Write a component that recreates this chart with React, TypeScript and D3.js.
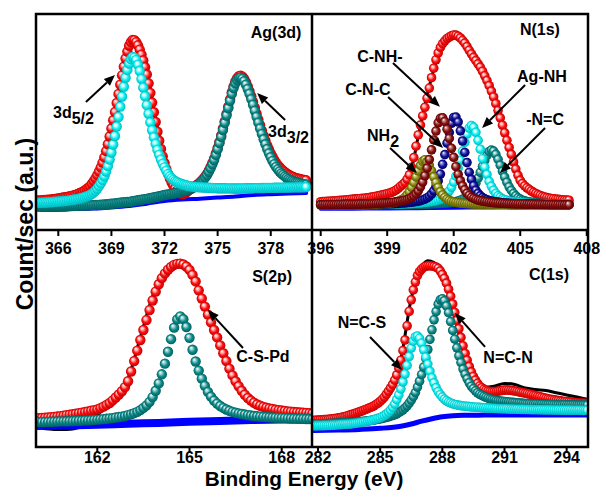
import React from 'react';
import * as d3 from 'd3';

// ---------------- DATA (intensity in a.u., 0-100 per panel) ----------------
// Ag(3d): binding energy grid 364.8 .. 380.0 eV, 0.1 eV step
const agStart = 364.8, agStep = 0.1, agCount = 153;
const agEnvelope = [
  13.6,13.65,13.7,13.8,13.9,13.95,14.0,14.07,14.15,14.25,
  14.35,14.47,14.6,14.75,14.9,15.05,15.2,15.35,15.5,15.7,
  15.9,16.15,16.4,16.7,17.1,17.4,17.8,18.35,19.0,19.6,
  20.3,21.4,22.6,23.9,25.4,27.1,29.0,31.2,33.6,36.5,
  39.7,43.3,47.0,50.8,54.6,58.8,63.0,67.3,71.6,75.6,
  79.4,82.6,85.3,87.0,88.0,87.9,87.0,85.5,83.5,81.2,
  78.5,75.4,72.0,67.9,63.5,59.0,54.5,50.0,45.5,41.3,
  37.5,34.1,31.0,28.3,26.0,23.9,22.0,20.5,19.2,18.2,
  17.4,16.9,16.6,16.8,17.3,17.95,18.6,19.1,19.6,20.1,
  20.7,21.3,22.0,22.85,23.8,24.85,26.0,27.5,29.2,31.0,
  33.0,35.4,38.0,40.8,43.8,47.0,50.3,53.7,57.1,60.5,
  63.8,66.5,68.8,70.3,71.2,71.4,71.0,69.9,68.4,66.5,
  64.3,61.9,59.3,56.6,53.8,51.1,48.5,46.0,43.6,41.3,
  39.2,37.3,35.5,33.9,32.4,31.1,30.0,29.05,28.2,27.45,
  26.8,26.2,25.6,25.2,24.8,24.45,24.1,23.9,23.7,23.5,
  23.3,23.15,23.0];
const ag3d52 = [
  12.6,12.62,12.65,12.67,12.7,12.75,12.8,12.85,12.9,12.97,
  13.05,13.12,13.2,13.25,13.3,13.4,13.5,13.6,13.7,13.85,
  14.0,14.12,14.25,14.42,14.6,14.8,15.0,15.3,15.6,15.9,
  16.3,16.8,17.45,18.25,19.2,20.4,21.7,23.2,24.9,27.1,
  29.6,32.6,35.9,39.6,43.5,47.9,52.3,57.1,61.8,66.3,
  70.5,74.1,77.1,79.1,80.1,79.8,78.7,76.5,73.6,69.9,
  65.9,61.9,57.8,53.8,49.8,46.2,42.9,39.9,37.1,34.8,
  32.6,30.7,29.0,27.4,25.9,24.8,23.9,23.2,22.6,22.2,
  21.8,21.5,21.2,20.95,20.7,20.5,20.3,20.2,20.1,20.0,
  19.9,19.85,19.8,19.75,19.7,19.65,19.6,19.55,19.5,19.45,
  19.4,19.37,19.35,19.32,19.3,19.3,19.3,19.27,19.25,19.25,
  19.25,19.22,19.2,19.2,19.2,19.22,19.25,19.27,19.3,19.3,
  19.3,19.32,19.35,19.37,19.4,19.4,19.4,19.42,19.45,19.47,
  19.5,19.5,19.5,19.52,19.55,19.57,19.6,19.6,19.6,19.62,
  19.65,19.67,19.7,19.7,19.7,19.72,19.75,19.77,19.8,19.8,
  19.8,19.82,19.85];
const ag3d32 = [
  10.8,10.8,10.8,10.8,10.8,10.8,10.8,10.82,10.85,10.87,
  10.9,10.9,10.9,10.92,10.95,10.97,11.0,11.05,11.1,11.15,
  11.2,11.2,11.2,11.25,11.3,11.32,11.35,11.37,11.4,11.45,
  11.5,11.5,11.5,11.55,11.6,11.65,11.7,11.75,11.8,11.85,
  11.9,12.02,12.15,12.22,12.3,12.4,12.5,12.6,12.7,12.8,
  12.9,12.95,13.0,13.15,13.3,13.45,13.6,13.75,13.9,14.05,
  14.2,14.3,14.4,14.57,14.75,14.92,15.1,15.25,15.4,15.6,
  15.8,16.0,16.2,16.35,16.5,16.6,16.7,16.85,17.0,17.2,
  17.4,17.65,17.9,18.05,18.2,18.5,18.8,19.15,19.5,19.95,
  20.4,20.95,21.6,22.4,23.3,24.35,25.5,26.95,28.6,30.4,
  32.4,34.8,37.4,40.2,43.1,46.3,49.6,53.0,56.4,59.8,
  63.0,65.7,67.9,69.4,70.3,70.5,70.0,68.9,67.3,65.3,
  63.1,60.6,58.0,55.2,52.4,49.7,47.0,44.5,42.0,39.7,
  37.5,35.5,33.7,32.0,30.5,29.2,28.1,27.1,26.2,25.5,
  24.8,24.2,23.6,23.2,22.8,22.45,22.1,21.9,21.7,21.5,
  21.3,21.15,21.0];
const agRawE = [364.8,365.5,366,366.5,367,367.5,368,368.5,369,369.5,370,370.25,370.5,371,371.5,372,372.5,373,373.5,374,374.5,375,375.5,376,376.25,376.5,377,377.5,378,378.5,379,379.5,380];
const agRawV = [13.2,13.8,14.3,15.1,16.1,18.2,22.0,30.8,46.5,67.0,85.5,88.6,86.8,73.8,51.5,32.0,20.0,16.0,18.6,21.8,27.5,38.0,54.0,69.0,71.6,70.6,60.0,46.5,35.8,29.2,25.6,23.9,23.1];
const agBgE = [365,366,367,368,369,370,371,372,373,374,375,376,377,378,379,380];
const agBgV = [9.4,9.4,9.7,9.9,10.4,11.1,12.2,13.4,14.1,14.5,15.0,15.5,16.2,16.6,16.9,17.1];
const agTicks = [366, 369, 372, 375, 378];

// N(1s): grid 396.0 .. 407.2 eV, 0.1 eV step
const nStart = 396.0, nStep = 0.1, nCount = 113;
const nEnvelope = [
  13.1,13.15,13.2,13.25,13.3,13.35,13.4,13.5,13.6,13.7,
  13.8,13.9,14.0,14.1,14.2,14.3,14.4,14.5,14.6,14.65,
  14.7,14.85,15.0,15.2,15.4,15.6,15.8,16.05,16.3,16.55,
  16.8,17.1,17.4,17.9,18.5,19.3,20.2,21.0,22.0,23.5,
  25.5,29.0,33.5,38.8,44.0,48.6,52.8,56.8,61.0,65.7,
  70.5,74.9,78.8,82.0,84.5,86.3,87.6,88.6,89.3,89.9,
  90.3,90.2,89.7,88.9,87.8,86.5,84.9,83.2,81.5,79.9,
  78.4,76.9,75.4,73.5,71.4,69.2,66.8,64.3,61.6,58.5,
  55.3,51.9,48.5,45.0,41.5,38.2,35.0,31.5,28.2,25.3,
  23.0,21.5,20.4,19.55,18.8,18.05,17.4,16.9,16.4,16.0,
  15.6,15.3,15.0,14.8,14.6,14.45,14.3,14.2,14.1,14.0,
  13.9,13.85,13.8];
const nNH2 = [
  11.6,11.6,11.6,11.6,11.6,11.62,11.65,11.65,11.65,11.67,
  11.7,11.7,11.7,11.7,11.7,11.72,11.75,11.77,11.8,11.82,
  11.85,11.87,11.9,11.92,11.95,12.0,12.05,12.12,12.2,12.27,
  12.35,12.45,12.6,12.75,13.0,13.25,13.7,14.25,15.1,16.2,
  17.7,19.7,22.0,24.6,27.4,29.9,31.8,32.5,31.6,29.9,
  27.4,24.6,22.0,19.7,17.7,16.2,15.1,14.25,13.7,13.25,
  13.0,12.75,12.6,12.45,12.35,12.27,12.2,12.12,12.05,12.0,
  11.95,11.92,11.9,11.87,11.85,11.82,11.8,11.77,11.75,11.72,
  11.7,11.7,11.7,11.7,11.7,11.67,11.65,11.65,11.65,11.62,
  11.6,11.6,11.6,11.6,11.6,11.6,11.6,11.6,11.6,11.6,
  11.6,11.6,11.6,11.6,11.6,11.6,11.6,11.6,11.6,11.6,
  11.6,11.6,11.6];
const nCNC = [
  11.7,11.72,11.75,11.75,11.75,11.77,11.8,11.8,11.8,11.82,
  11.85,11.87,11.9,11.9,11.9,11.92,11.95,11.97,12.0,12.02,
  12.05,12.07,12.1,12.15,12.2,12.25,12.3,12.35,12.4,12.47,
  12.55,12.65,12.75,12.87,13.0,13.15,13.3,13.55,13.8,14.1,
  14.5,15.1,15.8,16.8,18.1,20.0,22.2,25.1,28.6,32.6,
  37.1,41.7,45.8,49.6,51.7,51.9,50.2,46.7,42.4,37.8,
  33.6,29.3,25.7,22.8,20.4,18.6,17.0,16.0,15.1,14.6,
  14.2,13.85,13.6,13.4,13.2,13.05,12.9,12.8,12.65,12.55,
  12.5,12.42,12.35,12.3,12.25,12.22,12.2,12.15,12.1,12.07,
  12.05,12.02,12.0,11.97,11.95,11.92,11.9,11.87,11.85,11.82,
  11.8,11.8,11.8,11.77,11.75,11.75,11.75,11.72,11.7,11.7,
  11.7,11.7,11.7];
const nCNH = [
  11.65,11.67,11.7,11.7,11.7,11.7,11.7,11.7,11.7,11.7,
  11.7,11.72,11.75,11.75,11.75,11.77,11.8,11.8,11.8,11.82,
  11.85,11.85,11.85,11.87,11.9,11.92,11.95,11.97,12.0,12.05,
  12.1,12.12,12.15,12.2,12.25,12.32,12.4,12.47,12.55,12.65,
  12.75,12.87,13.0,13.17,13.35,13.6,13.9,14.3,14.9,15.6,
  16.7,18.1,20.1,22.7,25.9,30.4,34.9,40.2,45.1,49.4,
  52.1,52.3,50.0,45.9,41.2,35.9,31.2,26.7,23.4,20.5,
  18.4,16.9,15.8,15.0,14.4,14.0,13.6,13.4,13.2,13.05,
  12.9,12.75,12.6,12.52,12.45,12.37,12.3,12.25,12.2,12.15,
  12.1,12.07,12.05,12.02,12.0,11.97,11.95,11.92,11.9,11.87,
  11.85,11.82,11.8,11.8,11.8,11.77,11.75,11.75,11.75,11.72,
  11.7,11.7,11.7];
const nAgNH = [
  11.6,11.62,11.65,11.65,11.65,11.65,11.65,11.65,11.65,11.67,
  11.7,11.7,11.7,11.7,11.7,11.72,11.75,11.75,11.75,11.77,
  11.8,11.8,11.8,11.82,11.85,11.87,11.9,11.9,11.9,11.92,
  11.95,11.95,11.95,11.97,12.0,12.02,12.05,12.1,12.15,12.17,
  12.2,12.27,12.35,12.42,12.5,12.57,12.65,12.77,12.9,13.05,
  13.2,13.4,13.6,13.9,14.3,14.9,15.5,16.7,18.1,19.8,
  22.2,24.9,28.6,32.3,36.5,40.6,44.4,47.2,48.3,47.5,
  45.2,41.5,37.4,33.0,29.1,25.7,22.5,20.2,18.4,16.9,
  15.8,15.1,14.4,14.0,13.7,13.4,13.2,13.05,12.9,12.8,
  12.7,12.6,12.5,12.42,12.35,12.3,12.25,12.2,12.15,12.1,
  12.05,12.02,12.0,11.97,11.95,11.92,11.9,11.9,11.9,11.87,
  11.85,11.85,11.85];
const nNC = [
  11.6,11.6,11.6,11.6,11.6,11.6,11.6,11.62,11.65,11.65,
  11.65,11.65,11.65,11.65,11.65,11.67,11.7,11.7,11.7,11.7,
  11.7,11.7,11.7,11.72,11.75,11.75,11.75,11.77,11.8,11.8,
  11.8,11.8,11.8,11.82,11.85,11.85,11.85,11.85,11.85,11.85,
  11.85,11.85,11.85,11.87,11.9,11.92,11.95,11.97,12.0,12.05,
  12.1,12.15,12.2,12.25,12.3,12.37,12.45,12.55,12.65,12.8,
  12.95,13.15,13.4,13.75,14.2,14.8,15.6,16.7,17.9,19.7,
  21.7,24.0,26.7,29.5,32.2,34.5,36.3,37.0,36.5,35.0,
  32.7,30.0,27.2,24.5,22.1,20.0,18.3,16.9,15.8,14.9,
  14.3,13.8,13.5,13.2,13.0,12.85,12.7,12.6,12.5,12.4,
  12.3,12.25,12.2,12.15,12.1,12.05,12.0,12.0,12.0,11.97,
  11.95,11.92,11.9];
const nRawE = [396.0,396.5,397,397.5,398,398.5,399,399.5,400,400.5,401,401.5,402,402.5,403,403.5,404,404.5,405,405.5,406,406.5,407,407.2];
const nRawV = [12.6,13.0,13.5,14.0,14.5,15.3,16.5,19.0,25.0,48.5,70.5,86.5,90.8,87.0,79.0,70.5,57.0,40.5,25.5,18.6,16.0,14.7,14.1,14.0];
const nBgE = [396,397,398,399,400,401,402,403,404,405,406,407];
const nBgV = [9.8,9.85,9.9,9.95,10.05,10.15,10.3,10.4,10.5,10.55,10.6,10.65];
const nTicks = [396, 399, 402, 405, 408];

// S(2p): grid 160.0 .. 169.0 eV, 0.1 eV step
const sStart = 160.0, sStep = 0.1, sCount = 91;
const sEnvelope = [13.2,13.3,13.4,13.5,13.6,13.75,13.9,14.05,14.25,14.45,
  14.7,14.9,15.1,15.35,15.6,15.85,16.1,16.4,16.7,17.0,
  17.3,17.9,18.6,19.4,20.3,21.5,22.8,24.2,25.7,27.6,
  30.3,34.8,39.6,44.4,49.3,53.9,58.5,63.1,67.5,71.6,
  75.0,77.8,80.0,81.7,83.0,83.9,84.4,84.5,84.1,83.2,
  81.6,79.3,76.3,72.2,68.4,64.7,61.0,57.4,53.9,50.5,
  46.8,43.2,39.6,36.1,33.0,30.3,28.0,25.9,24.1,22.6,
  21.4,20.4,19.6,19.0,18.5,18.1,17.8,17.5,17.2,17.0,
  16.8,16.6,16.4,16.3,16.1,16.0,15.9,15.8,15.7,15.6,15.5];
const sCSPd = [11.45,11.5,11.55,11.55,11.6,11.65,11.7,11.75,11.8,11.8,
  11.85,11.9,11.95,12.05,12.1,12.15,12.25,12.3,12.4,12.5,
  12.6,12.75,12.85,13.0,13.2,13.3,13.6,13.8,14.0,14.3,
  14.7,15.1,15.6,16.2,17.0,18.0,19.2,20.8,23.0,25.9,
  29.3,33.5,38.4,43.9,49.7,55.0,58.8,60.2,58.9,55.3,
  50.3,44.8,39.4,35.2,31.5,28.2,25.4,23.2,21.4,20.0,
  18.9,18.0,17.3,16.7,16.2,15.8,15.5,15.2,14.95,14.7,
  14.5,14.3,14.15,14.0,13.9,13.8,13.7,13.6,13.5,13.4,
  13.35,13.3,13.2,13.15,13.1,13.05,13.0,12.95,12.9,12.9,12.85];
const sRawE = [160.2,160.6,161.0,161.4,161.8,162.2,162.6,163.0,163.4,163.8,164.2,164.6,164.8,165.0,165.4,165.8,166.2,166.6,167.0,167.5,168.0,168.5,169.0];
const sRawV = [8.6,8.1,8.1,9.0,12.0,17.5,23.0,31.5,50.5,69.5,80.5,84.8,84.8,82.2,69.5,54.5,39.0,28.0,21.5,17.8,15.8,13.5,12.0];
const sBgE = [160,161,162,163,164,165,166,167,168,169];
const sBgV = [9.7,9.9,10.2,10.7,11.1,11.6,12.0,12.4,12.7,12.9];
const sTicks = [162, 165, 168];

// C(1s): grid 281.8 .. 295.0 eV, 0.1 eV step
const cStart = 281.8, cStep = 0.1, cCount = 133;
const cEnvelope = [
  12.3,12.35,12.4,12.45,12.5,12.6,12.7,12.8,12.9,13.0,
  13.1,13.25,13.4,13.6,13.8,14.05,14.3,14.6,14.9,15.2,
  15.5,15.85,16.2,16.55,16.9,17.3,17.7,18.1,18.5,19.0,
  19.6,20.25,21.0,21.9,23.0,24.3,25.7,27.2,28.8,30.8,
  33.2,36.3,40.0,44.4,49.3,55.8,62.5,67.8,72.4,76.0,
  79.0,80.8,82.0,82.8,83.3,83.5,83.5,83.4,83.2,82.9,
  82.3,81.1,79.5,77.7,75.5,72.7,69.5,65.9,62.0,58.3,
  54.5,50.5,46.6,43.1,40.0,37.1,34.6,32.5,30.8,29.3,
  28.1,27.3,26.6,26.15,25.8,25.6,25.5,25.5,25.6,25.75,
  25.9,26.05,26.2,26.25,26.2,26.1,26.0,25.8,25.6,25.4,
  25.2,25.0,24.8,24.6,24.4,24.15,23.9,23.65,23.4,23.15,
  22.9,22.65,22.4,22.2,22.0,21.85,21.7,21.55,21.4,21.25,
  21.1,21.0,20.9,20.8,20.7,20.6,20.5,20.4,20.3,20.25,
  20.2,20.15,20.1];
const cNCN = [
  10.6,10.65,10.7,10.7,10.7,10.75,10.8,10.82,10.85,10.87,
  10.9,10.97,11.05,11.1,11.15,11.2,11.25,11.3,11.35,11.42,
  11.5,11.6,11.7,11.77,11.85,11.95,12.05,12.17,12.3,12.45,
  12.6,12.77,12.95,13.17,13.4,13.65,13.9,14.2,14.5,14.87,
  15.3,15.8,16.4,17.15,18.0,19.0,20.2,21.6,23.2,25.1,
  27.6,30.3,33.4,36.8,40.8,44.9,49.6,54.0,58.6,62.4,
  65.8,67.8,68.3,67.4,65.0,61.9,57.8,53.7,49.7,45.7,
  42.0,38.9,35.9,33.5,31.4,29.6,28.0,26.9,25.9,25.0,
  24.3,23.8,23.3,22.9,22.5,22.2,21.9,21.7,21.5,21.35,
  21.2,21.1,21.0,20.87,20.75,20.65,20.55,20.45,20.35,20.27,
  20.2,20.12,20.05,20.0,19.95,19.9,19.85,19.82,19.8,19.75,
  19.7,19.67,19.65,19.62,19.6,19.57,19.55,19.52,19.5,19.5,
  19.5,19.47,19.45,19.42,19.4,19.4,19.4,19.37,19.35,19.35,
  19.35,19.32,19.3];
const cNCS = [
  9.75,9.77,9.8,9.82,9.85,9.87,9.9,9.92,9.95,10.02,
  10.1,10.17,10.25,10.32,10.4,10.45,10.5,10.57,10.65,10.8,
  10.95,11.07,11.2,11.35,11.5,11.7,11.9,12.1,12.3,12.6,
  12.9,13.2,13.5,14.0,14.5,15.2,16.0,17.0,18.3,19.8,
  21.8,24.0,26.8,30.0,33.6,37.6,41.7,45.6,48.8,50.7,
  51.1,50.1,47.8,44.8,41.4,38.2,34.9,31.9,29.5,27.3,
  25.5,24.1,23.0,22.0,21.3,20.7,20.3,19.9,19.6,19.4,
  19.2,19.05,18.9,18.8,18.7,18.6,18.5,18.42,18.35,18.3,
  18.25,18.17,18.1,18.02,17.95,17.9,17.85,17.8,17.75,17.7,
  17.65,17.62,17.6,17.55,17.5,17.47,17.45,17.42,17.4,17.37,
  17.35,17.32,17.3,17.27,17.25,17.22,17.2,17.2,17.2,17.17,
  17.15,17.12,17.1,17.1,17.1,17.07,17.05,17.05,17.05,17.02,
  17.0,17.0,17.0,17.0,17.0,16.97,16.95,16.95,16.95,16.92,
  16.9,16.9,16.9];
const cRawE = [281.8,282.5,283,283.5,284,284.5,285,285.5,286,286.5,287,287.3,287.6,288,288.5,289,289.5,290,290.5,291,291.5,292,292.5,293,293.5,294,294.5,295];
const cRawV = [12.0,12.6,13.0,13.9,15.6,17.8,20.5,26.5,40.5,68.5,83.0,85.8,85.0,79.0,63.5,45.0,32.0,27.5,28.0,29.3,28.8,27.2,26.5,26.0,25.0,24.0,23.0,22.0];
const cBgE = [281.8,283,284,285,286,286.5,287,287.5,288,288.5,289,290,292,295];
const cBgV = [7.6,7.8,8.1,8.6,9.6,10.6,11.9,13.0,13.9,14.4,14.6,14.7,14.8,14.8];
const cTicks = [282, 285, 288, 291, 294];

// ---------------- LAYOUT ----------------
const FONT = "'Liberation Sans', Arial, Helvetica, sans-serif";
const LEFT = 36, RIGHT = 588, TOP = 14, MID_Y = 230, BOTTOM = 447, MID_X = 312;

type Ann = { e: number; v: number; t: string; sub?: string; anchor?: string };
type Arr = { e1: number; v1: number; e2: number; v2: number };

const grid = (start: number, step: number, n: number) => d3.range(n).map(i => +(start + i * step).toFixed(3));

const gradients = [
  { id: 'red', hi: '#ffb0b0', base: '#ff1010', dark: '#c00000' },
  { id: 'cyan', hi: '#c8ffff', base: '#10f0f0', dark: '#00b8c0' },
  { id: 'teal', hi: '#9fd0d0', base: '#0a8c8a', dark: '#005f5f' },
  { id: 'navy', hi: '#8080d0', base: '#10109a', dark: '#000060' },
  { id: 'maroon', hi: '#c08080', base: '#8a1010', dark: '#5a0000' },
  { id: 'olive', hi: '#c8c880', base: '#8a8a10', dark: '#5a5a00' },
];

const panels = [
  {
    id: 'ag', x0: LEFT, x1: MID_X, y0: TOP, y1: MID_Y, domain: [364.74, 380.33], ticks: agTicks, r: 5.2,
    e: grid(agStart, agStep, agCount),
    series: [{ v: agEnvelope, g: 'red' }, { v: ag3d32, g: 'teal' }, { v: ag3d52, g: 'cyan' }],
    raw: { e: agRawE, v: agRawV }, bg: { e: agBgE, v: agBgV, w: 4 },
    title: { e: 378.3, v: 88.9, t: 'Ag(3d)', anchor: 'middle' },
    anns: [
      { e: 365.7, v: 51.9, t: '3d', sub: '5/2' },
      { e: 377.85, v: 43.1, t: '3d', sub: '3/2' },
    ] as Ann[],
    arrows: [
      { e1: 367.56, v1: 59.3, e2: 369.2, v2: 71.8 },
      { e1: 378.81, v1: 50.9, e2: 377.23, v2: 63.4 },
    ] as Arr[],
  },
  {
    id: 'n', x0: MID_X, x1: RIGHT, y0: TOP, y1: MID_Y, domain: [395.608, 408.057], ticks: nTicks, r: 4.8,
    e: grid(nStart, nStep, nCount),
    series: [{ v: nEnvelope, g: 'red' }, { v: nNC, g: 'teal' }, { v: nAgNH, g: 'cyan' }, { v: nCNH, g: 'navy' }, { v: nNH2, g: 'olive' }, { v: nCNC, g: 'maroon' }],
    raw: { e: nRawE, v: nRawV }, bg: { e: nBgE, v: nBgV, w: 4 },
    title: { e: 405.89, v: 90.3, t: 'N(1s)', anchor: 'middle' },
    anns: [
      { e: 398.67, v: 77.8, t: 'C-NH-', anchor: 'middle' },
      { e: 398.13, v: 62.5, t: 'C-N-C', anchor: 'middle' },
      { e: 405.98, v: 68.5, t: 'Ag-NH', anchor: 'middle' },
      { e: 406.12, v: 48.6, t: '-N=C', anchor: 'middle' },
      { e: 398.09, v: 41.2, t: 'NH', sub: '2' },
    ] as Ann[],
    arrows: [
      { e1: 399.26, v1: 77.3, e2: 401.38, v2: 57.1 },
      { e1: 399.04, v1: 61.6, e2: 401.52, v2: 38.0 },
      { e1: 405.22, v1: 67.1, e2: 403.28, v2: 47.2 },
      { e1: 406.12, v1: 47.2, e2: 404.09, v2: 26.4 },
      { e1: 399.13, v1: 38.0, e2: 400.34, v2: 26.4 },
    ] as Arr[],
  },
  {
    id: 's', x0: LEFT, x1: MID_X, y0: MID_Y, y1: BOTTOM, domain: [160.005, 168.986], ticks: sTicks, r: 5.2,
    e: grid(sStart, sStep, sCount),
    series: [{ v: sEnvelope, g: 'red' }, { v: sCSPd, g: 'teal' }],
    raw: { e: sRawE, v: sRawV }, bg: { e: sBgE, v: sBgV, w: 8 },
    title: { e: 167.69, v: 76.0, t: 'S(2p)', anchor: 'middle' },
    anns: [{ e: 167.39, v: 39.2, t: 'C-S-Pd', anchor: 'middle' }] as Ann[],
    arrows: [{ e1: 166.74, v1: 45.6, e2: 165.6, v2: 63.1 }] as Arr[],
  },
  {
    id: 'c', x0: MID_X, x1: RIGHT, y0: MID_Y, y1: BOTTOM, domain: [281.71, 295.03], ticks: cTicks, r: 4.8,
    e: grid(cStart, cStep, cCount),
    series: [{ v: cEnvelope, g: 'red' }, { v: cNCN, g: 'teal' }, { v: cNCS, g: 'cyan' }],
    raw: { e: cRawE, v: cRawV }, bg: { e: cBgE, v: cBgV, w: 5 },
    title: { e: 293.15, v: 77.0, t: 'C(1s)', anchor: 'middle' },
    anns: [
      { e: 284.12, v: 54.8, t: 'N=C-S', anchor: 'middle' },
      { e: 291.17, v: 38.7, t: 'N=C-N', anchor: 'middle' },
    ] as Ann[],
    arrows: [
      { e1: 284.51, v1: 50.7, e2: 286.05, v2: 35.5 },
      { e1: 290.06, v1: 46.1, e2: 288.61, v2: 61.8 },
    ] as Arr[],
  },
];

function Arrow({ x1, y1, x2, y2 }: { x1: number; y1: number; x2: number; y2: number }) {
  const ang = Math.atan2(y2 - y1, x2 - x1);
  const len = 11, half = 4.5;
  const bx = x2 - len * Math.cos(ang), by = y2 - len * Math.sin(ang);
  const px = -Math.sin(ang), py = Math.cos(ang);
  const pts = `${x2},${y2} ${bx + px * half},${by + py * half} ${bx - px * half},${by - py * half}`;
  return (
    <g>
      <line x1={x1} y1={y1} x2={bx} y2={by} stroke="#000" strokeWidth={2} />
      <polygon points={pts} fill="#000" />
    </g>
  );
}

function Panel({ p }: { p: (typeof panels)[number] }) {
  const x = d3.scaleLinear().domain(p.domain).range([p.x0, p.x1]);
  const y = d3.scaleLinear().domain([0, 100]).range([p.y1, p.y0]);
  const line = d3.line<[number, number]>().x(d => x(d[0])).y(d => y(d[1])).curve(d3.curveMonotoneX);
  const rawPath = line(p.raw.e.map((e, i) => [e, p.raw.v[i]] as [number, number])) || '';
  const bgPath = line(p.bg.e.map((e, i) => [e, p.bg.v[i]] as [number, number])) || '';
  const isTop = p.y0 === TOP;
  const fs = 16;
  return (
    <g>
      <g clipPath={`url(#clip-${p.id})`}>
        <path d={rawPath} fill="none" stroke="#000" strokeWidth={3} />
        <path d={bgPath} fill="none" stroke="#0000ff" strokeWidth={p.bg.w} strokeLinecap="round" />
        {p.series.map((s, si) => (
          <g key={si}>
            {p.e.map((e, i) =>
              s.v[i] === undefined ? null : (
                <circle key={i} cx={x(e)} cy={y(s.v[i])} r={p.r} fill={`url(#g-${s.g})`} />
              )
            )}
          </g>
        ))}
      </g>
      {p.ticks.map(t => (
        <g key={t}>
          <line x1={x(t)} x2={x(t)} y1={p.y1} y2={p.y1 + 6} stroke="#000" strokeWidth={2} />
          <text x={x(t)} y={isTop ? 254 : 463} textAnchor="middle" fontFamily={FONT} fontWeight="bold" fontSize={fs} fill="#000">
            {t}
          </text>
        </g>
      ))}
      <text x={x(p.title.e)} y={y(p.title.v)} textAnchor="middle" fontFamily={FONT} fontWeight="bold" fontSize={fs}>
        {p.title.t}
      </text>
      {p.anns.map((a, i) => (
        <text key={i} x={x(a.e)} y={y(a.v)} textAnchor={a.anchor || 'start'} fontFamily={FONT} fontWeight="bold" fontSize={fs}>
          {a.t}
          {a.sub ? <tspan dy={6}>{a.sub}</tspan> : null}
        </text>
      ))}
      {p.arrows.map((a, i) => (
        <Arrow key={i} x1={x(a.e1)} y1={y(a.v1)} x2={x(a.e2)} y2={y(a.v2)} />
      ))}
    </g>
  );
}

export default function App() {
  return (
    <div style={{ position: 'absolute', left: 0, top: 0, width: 602, height: 490, background: '#fff' }}>
      <svg width={602} height={490} viewBox="0 0 602 490" style={{ display: 'block' }}>
        <defs>
          {gradients.map(g => (
            <radialGradient key={g.id} id={`g-${g.id}`} cx="50%" cy="50%" r="50%" fx="34%" fy="30%">
              <stop offset="0%" stopColor="#ffffff" />
              <stop offset="28%" stopColor={g.hi} />
              <stop offset="62%" stopColor={g.base} />
              <stop offset="100%" stopColor={g.dark} />
            </radialGradient>
          ))}
          {panels.map(p => (
            <clipPath key={p.id} id={`clip-${p.id}`}>
              <rect x={p.x0} y={p.y0} width={p.x1 - p.x0} height={p.y1 - p.y0} />
            </clipPath>
          ))}
        </defs>
        <rect x={0} y={0} width={602} height={490} fill="#fff" />
        {panels.map(p => (
          <Panel key={p.id} p={p} />
        ))}
        <rect x={LEFT} y={TOP} width={RIGHT - LEFT} height={BOTTOM - TOP} fill="none" stroke="#000" strokeWidth={2.5} />
        <line x1={LEFT} x2={RIGHT} y1={MID_Y} y2={MID_Y} stroke="#000" strokeWidth={2.5} />
        <line x1={MID_X} x2={MID_X} y1={TOP} y2={BOTTOM} stroke="#000" strokeWidth={2.5} />
        <text x={304} y={485.5} textAnchor="middle" fontFamily={FONT} fontWeight="bold" fontSize={20.8}>
          Binding Energy (eV)
        </text>
        <text transform="translate(33,224) rotate(-90)" textAnchor="middle" fontFamily={FONT} fontWeight="bold" fontSize={23}>
          Count/sec (a.u.)
        </text>
      </svg>
    </div>
  );
}
